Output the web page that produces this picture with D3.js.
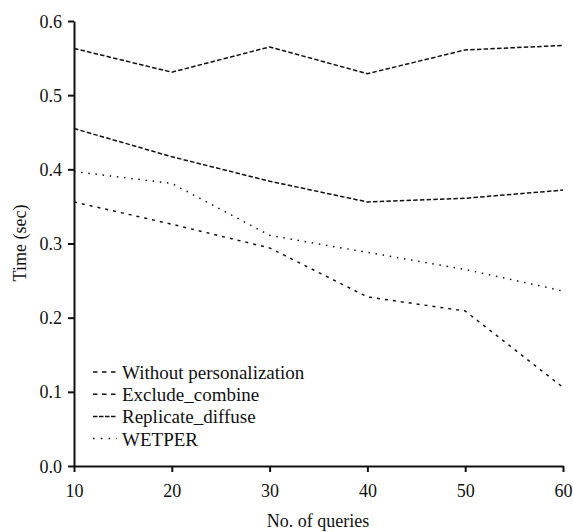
<!DOCTYPE html>
<html>
<head>
<meta charset="utf-8">
<script src="https://cdn.jsdelivr.net/npm/d3@7/dist/d3.min.js"></script>
<style>
  html, body { margin: 0; padding: 0; background: #fff; }
</style>
</head>
<body>
<svg id="chart" width="573" height="532"></svg>
<script>
const queries = [10, 20, 30, 40, 50, 60];
const seriesNames = ["Without personalization", "Exclude_combine", "Replicate_diffuse", "WETPER"];
const withoutPersonalization = [0.563, 0.531, 0.565, 0.529, 0.561, 0.567];
const excludeCombine = [0.455, 0.417, 0.384, 0.356, 0.361, 0.372];
const replicateDiffuse = [0.356, 0.326, 0.294, 0.228, 0.209, 0.106];
const wetper = [0.397, 0.381, 0.311, 0.288, 0.265, 0.236];
const yTicks = [0.0, 0.1, 0.2, 0.3, 0.4, 0.5, 0.6];
const xTicks = [10, 20, 30, 40, 50, 60];

const series = [
  { name: seriesNames[0], values: withoutPersonalization, dash: "4.5,2.2", legendDash: "4.5,4.5" },
  { name: seriesNames[1], values: excludeCombine, dash: "4.5,2.2", legendDash: "4.5,4.5" },
  { name: seriesNames[2], values: replicateDiffuse, dash: "3,5", legendDash: "4.5,1.5" },
  { name: seriesNames[3], values: wetper, dash: "1.5,5.7", legendDash: "1.6,6.2" }
];

const FONT = "'Liberation Serif', 'Times New Roman', Times, serif";
const svg = d3.select("#chart");
const x = d3.scaleLinear().domain([10, 60]).range([74, 563]);
const y = d3.scaleLinear().domain([0, 0.6]).range([466, 21]);

const fontSize = 18;

// Axes
const xAxis = d3.axisBottom(x).tickValues(xTicks).tickFormat(d3.format("d")).tickSize(6).tickSizeOuter(0);
const gx = svg.append("g").attr("transform", "translate(0,466)").call(xAxis);
gx.select(".domain").attr("stroke", "#111").attr("stroke-width", 2);
gx.selectAll(".tick line").attr("stroke", "#111").attr("stroke-width", 2);
gx.selectAll(".tick text").attr("font-size", fontSize).attr("y", 31).attr("dy", 0)
  .style("font-family", FONT).attr("fill", "#111");

const yAxis = d3.axisLeft(y).tickValues(yTicks).tickFormat(d3.format(".1f")).tickSize(6).tickSizeOuter(0);
const gy = svg.append("g").attr("transform", "translate(74,0)").call(yAxis);
gy.select(".domain").attr("stroke", "#111").attr("stroke-width", 2);
gy.selectAll(".tick line").attr("stroke", "#111").attr("stroke-width", 2);
gy.selectAll(".tick text").attr("font-size", fontSize).attr("x", -12).attr("dy", "0.34em")
  .style("font-family", FONT).attr("fill", "#111");

// Lines
const line = d3.line().x((d, i) => x(queries[i])).y(d => y(d));
series.forEach(s => {
  svg.append("path")
    .datum(s.values)
    .attr("d", line)
    .attr("fill", "none")
    .attr("stroke", "#111")
    .attr("stroke-width", 1.5)
    .attr("stroke-dasharray", s.dash);
});

// Axis titles
svg.append("text")
  .attr("x", 318).attr("y", 527)
  .attr("text-anchor", "middle")
  .attr("font-size", fontSize)
  .style("font-family", FONT).attr("fill", "#111")
  .text("No. of queries");

svg.append("text")
  .attr("transform", "translate(26,243) rotate(-90)")
  .attr("text-anchor", "middle")
  .attr("font-size", fontSize)
  .style("font-family", FONT).attr("fill", "#111")
  .text("Time (sec)");

// Legend
const legend = svg.append("g").attr("transform", "translate(93,379)");
series.forEach((s, i) => {
  const g = legend.append("g").attr("transform", `translate(0,${i * 22.2})`);
  g.append("line")
    .attr("x1", 0).attr("x2", 24)
    .attr("y1", -7).attr("y2", -7)
    .attr("stroke", "#111").attr("stroke-width", 1.5)
    .attr("stroke-dasharray", s.legendDash);
  g.append("text")
    .attr("x", 29).attr("y", 0)
    .attr("font-size", 19)
    .style("font-family", FONT).attr("fill", "#111")
    .text(s.name);
});
</script>
</body>
</html>
